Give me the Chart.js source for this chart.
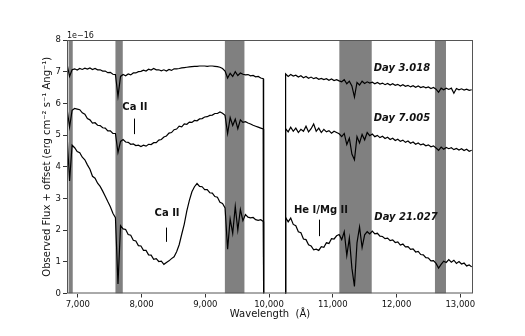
<!DOCTYPE html>
<html><head><meta charset="utf-8">
<script src="https://cdn.jsdelivr.net/npm/chart.js@4/dist/chart.umd.min.js"></script>
<style>html,body{margin:0;padding:0;background:#fff}</style>
</head><body>
<canvas id="c" width="525" height="336"></canvas>
<script>
// Wavelength grid (Å); gap between the two spectrograph arms
const wavelength = [
 6830,6870,6910,6950,6990,7030,7070,7110,7150,7190,7230,7270,7310,7350,7390,7430,7470,7510,7550,7590,
 7630,7670,7710,7750,7790,7830,7870,7910,7950,7990,8030,8070,8110,8150,8190,8230,8270,8310,8350,8390,
 8430,8470,8510,8550,8590,8630,8670,8710,8750,8790,8830,8870,8910,8950,8990,9030,9070,9110,9150,9190,
 9230,9270,9310,9350,9390,9430,9470,9510,9550,9590,9630,9670,9710,9750,9790,9830,9870,9910,
 9915,10000,10255,
 10260,10300,10340,10380,10420,10460,10500,10540,10580,10620,10660,10700,10740,10780,10820,10860,10900,10940,10980,11020,
 11060,11100,11140,11180,11220,11260,11300,11340,11380,11420,11460,11500,11540,11580,11620,11660,11700,11740,11780,11820,
 11860,11900,11940,11980,12020,12060,12100,12140,12180,12220,12260,12300,12340,12380,12420,12460,12500,12540,12580,12620,
 12660,12700,12740,12780,12820,12860,12900,12940,12980,13020,13060,13100,13140,13180
];
// Observed flux + offset (1e-16 erg cm^-2 s^-1 Ang^-1)
const day3 = [
 7.25,6.85,7.06,7.09,7.05,7.10,7.07,7.11,7.08,7.12,7.07,7.10,7.06,7.06,7.02,7.02,6.97,6.98,6.92,6.91,
 6.22,6.85,6.91,6.87,6.93,6.90,6.96,6.96,7.00,7.01,7.05,7.02,7.08,7.05,7.10,7.06,7.06,7.03,7.06,7.02,
 7.07,7.04,7.09,7.09,7.10,7.12,7.13,7.14,7.15,7.16,7.17,7.17,7.18,7.18,7.18,7.17,7.18,7.18,7.17,7.16,
 7.14,7.10,7.02,6.80,6.95,6.85,7.00,6.88,6.96,6.92,6.90,6.91,6.87,6.88,6.84,6.85,6.80,6.78,
 0,null,0,
 6.93,6.85,6.91,6.86,6.89,6.83,6.87,6.81,6.85,6.79,6.83,6.78,6.81,6.76,6.79,6.75,6.78,6.73,6.77,6.72,
 6.75,6.71,6.68,6.75,6.62,6.70,6.55,6.20,6.66,6.58,6.70,6.63,6.68,6.64,6.67,6.62,6.66,6.61,6.64,6.59,
 6.63,6.58,6.62,6.57,6.60,6.55,6.59,6.54,6.57,6.52,6.56,6.51,6.55,6.50,6.53,6.49,6.52,6.47,6.50,6.45,
 6.35,6.48,6.43,6.48,6.44,6.48,6.32,6.47,6.43,6.46,6.42,6.45,6.41,6.43
];
const day7 = [
 5.84,5.25,5.78,5.84,5.82,5.80,5.70,5.66,5.52,5.48,5.38,5.39,5.31,5.30,5.23,5.22,5.13,5.13,5.05,5.05,
 4.45,4.80,4.86,4.78,4.77,4.71,4.72,4.67,4.68,4.64,4.68,4.65,4.71,4.70,4.76,4.76,4.84,4.86,4.94,4.97,
 5.06,5.08,5.17,5.19,5.28,5.26,5.35,5.34,5.41,5.40,5.46,5.45,5.51,5.52,5.57,5.58,5.62,5.63,5.68,5.68,
 5.73,5.69,5.62,5.05,5.55,5.30,5.50,5.20,5.48,5.40,5.42,5.38,5.35,5.31,5.28,5.25,5.22,5.19,
 0,null,0,
 5.20,5.10,5.25,5.12,5.22,5.08,5.18,5.12,5.28,5.10,5.20,5.35,5.12,5.22,5.08,5.18,5.10,5.14,5.06,5.12,
 5.08,5.04,4.95,5.05,4.70,4.90,4.40,4.22,4.95,4.75,5.02,4.85,5.08,4.98,5.03,4.95,4.99,4.92,4.96,4.89,
 4.93,4.86,4.90,4.83,4.87,4.80,4.84,4.77,4.81,4.74,4.78,4.71,4.75,4.69,4.72,4.66,4.69,4.63,4.66,4.59,
 4.52,4.62,4.55,4.61,4.57,4.60,4.54,4.58,4.53,4.57,4.51,4.55,4.49,4.52
];
const day21 = [
 5.05,3.55,4.68,4.60,4.48,4.44,4.30,4.22,4.06,3.92,3.70,3.64,3.48,3.38,3.23,3.07,2.90,2.74,2.53,2.39,
 0.30,2.14,2.04,2.02,1.86,1.84,1.68,1.66,1.51,1.50,1.36,1.36,1.22,1.21,1.08,1.10,1.01,1.02,0.92,0.98,
 1.03,1.10,1.16,1.32,1.54,1.87,2.19,2.61,2.94,3.21,3.37,3.47,3.38,3.37,3.28,3.28,3.18,3.17,3.06,3.04,
 2.88,2.84,2.70,1.40,2.35,1.90,2.75,2.00,2.65,2.30,2.49,2.41,2.39,2.40,2.33,2.31,2.33,2.27,
 0,null,0,
 2.40,2.26,2.38,2.18,2.14,1.95,1.92,1.72,1.70,1.54,1.50,1.38,1.40,1.36,1.48,1.46,1.60,1.58,1.73,1.72,
 1.82,1.86,1.70,1.95,1.20,1.75,0.80,0.22,1.60,2.10,1.45,1.85,1.95,1.88,1.97,1.88,1.90,1.81,1.80,1.73,
 1.75,1.67,1.69,1.61,1.63,1.53,1.56,1.47,1.48,1.39,1.41,1.31,1.33,1.23,1.22,1.13,1.12,1.03,1.04,0.95,
 0.80,0.92,1.02,0.98,1.07,0.99,1.05,0.95,1.01,0.93,0.96,0.87,0.90,0.84
];
const xTicks = [7000,8000,9000,10000,11000,12000,13000];
const yTicks = [0,1,2,3,4,5,6,7,8];
// Telluric regions (Å)
const bandStart = [6855,7590,9307,11103,12603];
const bandEnd   = [6920,7705,9614,11611,12776];
// Line identifications: label, wavelength, flux level of label, marker top, marker bottom
const idLabels = ['Ca II','Ca II','He I/Mg II'];
const idWave   = [7895,8400,10815];
const idText   = [5.88,2.54,2.61];
const idMarkW  = [7886,8382,10781];
const idTop    = [5.52,2.08,2.33];
const idBottom = [5.03,1.63,1.81];
// Epoch labels
const epochLabels = ['Day 3.018','Day 7.005','Day 21.027'];
const epochWave = [12086,12086,12149];
const epochY    = [7.11,5.51,2.41];

const FONT = "'DejaVu Sans', sans-serif";

const bandPlugin = {
  id:'bands',
  beforeDatasetsDraw(chart){
    const {ctx, chartArea:a, scales:{x}} = chart;
    ctx.save();
    ctx.beginPath(); ctx.rect(a.left,a.top,a.right-a.left,a.bottom-a.top); ctx.clip();
    ctx.fillStyle = '#808080';
    bandStart.forEach((s,i)=>{
      const x0 = x.getPixelForValue(s), x1 = x.getPixelForValue(bandEnd[i]);
      ctx.fillRect(x0, a.top, x1-x0, a.bottom-a.top);
    });
    ctx.restore();
  }
};
const annoPlugin = {
  id:'anno',
  afterDraw(chart){
    const {ctx, chartArea:a, scales:{x,y}} = chart;
    ctx.save();
    ctx.strokeStyle = '#555'; ctx.lineWidth = 1;
    ctx.strokeRect(a.left+0.5, a.top+0.5, a.right-a.left-1, a.bottom-a.top-1);
    ctx.fillStyle = '#111';
    ctx.textAlign = 'center'; ctx.textBaseline = 'middle';
    ctx.font = "bold 10px " + FONT;
    idLabels.forEach((t,i)=>{
      ctx.fillText(t, x.getPixelForValue(idWave[i]), y.getPixelForValue(idText[i]));
      const mx = Math.round(x.getPixelForValue(idMarkW[i]))+0.5;
      ctx.strokeStyle = '#000';
      ctx.beginPath(); ctx.moveTo(mx, y.getPixelForValue(idTop[i])); ctx.lineTo(mx, y.getPixelForValue(idBottom[i])); ctx.stroke();
    });
    ctx.font = "italic bold 10px " + FONT;
    epochLabels.forEach((t,i)=>{
      ctx.fillText(t, x.getPixelForValue(epochWave[i]), y.getPixelForValue(epochY[i]));
    });
    ctx.font = "8px " + FONT; ctx.textAlign='left';
    ctx.fillText('1e\u221216', a.left, a.top-4.5);
    ctx.restore();
  }
};

new Chart(document.getElementById('c'), {
  type:'line',
  data:{datasets:[day3,day7,day21].map(arr=>({
    data: wavelength.map((w,i)=>({x:w,y:arr[i]})),
    borderColor:'#000', borderWidth:1.2, pointRadius:0, tension:0, spanGaps:false, fill:false
  }))},
  options:{
    responsive:false, animation:false, devicePixelRatio:1,
    layout:{padding:{left:37,top:40,right:52,bottom:12}},
    plugins:{legend:{display:false},tooltip:{enabled:false}},
    scales:{
      x:{type:'linear',min:6830,max:13200,
        afterBuildTicks:s=>{s.ticks = xTicks.map(v=>({value:v}));},
        ticks:{font:{family:FONT,size:8.5},color:'#111',padding:2,maxRotation:0,autoSkip:false,
          callback:v=>v.toLocaleString('en-US')},
        grid:{drawOnChartArea:false,drawTicks:true,tickLength:4,color:'#333'},
        border:{display:false},
        title:{display:true,text:'Wavelength  (Å)',font:{family:FONT,size:10},color:'#111',padding:{top:0,bottom:4}},
        afterFit:s=>{s.height=30.5;}
      },
      y:{min:0,max:8,
        afterBuildTicks:s=>{s.ticks = yTicks.map(v=>({value:v}));},
        ticks:{font:{family:FONT,size:8.5},color:'#111',padding:2},
        grid:{drawOnChartArea:false,drawTicks:true,tickLength:4,color:'#333'},
        border:{display:false},
        title:{display:true,text:'Observed Flux + offset (erg cm\u207B\u00B2 s\u207B\u00B9 Ang\u207B\u00B9)',font:{family:FONT,size:10},color:'#111',padding:{top:4,bottom:0}},
        afterFit:s=>{s.width=30;}
      }
    }
  },
  plugins:[bandPlugin, annoPlugin]
});
</script>
</body></html>
